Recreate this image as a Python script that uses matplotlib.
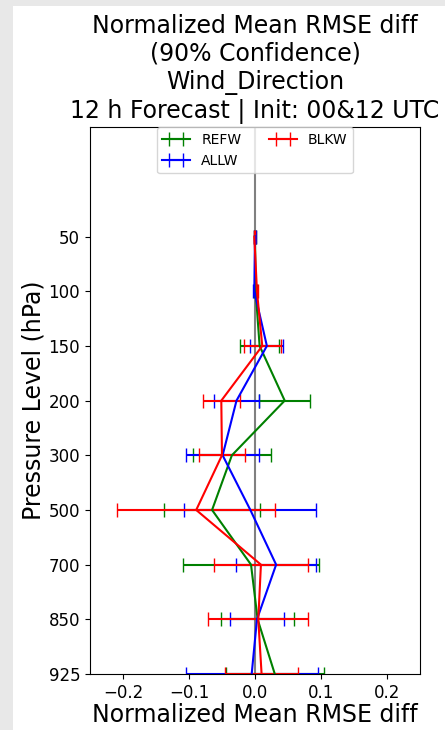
import matplotlib
matplotlib.use('Agg')
import matplotlib.pyplot as plt
from matplotlib.patches import Rectangle
import numpy as np

levels = [50, 100, 150, 200, 300, 500, 700, 850, 925]

refw = [0.0, 0.001, 0.007, 0.045, -0.035, -0.065, -0.006, 0.004, 0.030]
refw_err = [0.001, 0.002, 0.029, 0.039, 0.059, 0.073, 0.103, 0.055, 0.074]
allw = [0.0, -0.001, 0.018, -0.028, -0.049, -0.007, 0.032, 0.003, -0.005]
allw_err = [0.001, 0.002, 0.025, 0.034, 0.055, 0.100, 0.060, 0.041, 0.100]
blkw = [-0.001, 0.003, 0.011, -0.051, -0.050, -0.089, 0.009, 0.005, 0.010]
blkw_err = [0.001, 0.002, 0.028, 0.028, 0.035, 0.120, 0.071, 0.076, 0.055]

fig = plt.figure(figsize=(4.45, 7.3), dpi=100, facecolor='#e8e8e8')
# white page area (screenshot has a grey margin top/left)
fig.patches.append(Rectangle((13 / 445, 0), 1, 1 - 6 / 730, transform=fig.transFigure,
                             facecolor='white', edgecolor='none', zorder=-10))

ax = fig.add_axes([0.202, 0.0767, 0.742, 0.749])
ypos = np.arange(len(levels))

ax.axvline(0, color='grey', lw=1.5, zorder=1)
ax.errorbar(refw, ypos, xerr=refw_err, color='g', capsize=5, lw=1.5, label='REFW')
ax.errorbar(allw, ypos, xerr=allw_err, color='b', capsize=5, lw=1.5, label='ALLW')
ax.errorbar(blkw, ypos, xerr=blkw_err, color='r', capsize=5, lw=1.5, label='BLKW')

ax.set_yticks(ypos)
ax.set_yticklabels([str(l) for l in levels], fontsize=12)
ax.set_ylim(len(levels) - 1, -2)
ax.set_xlim(-0.25, 0.25)
ax.set_xticks([-0.2, -0.1, 0.0, 0.1, 0.2])
ax.tick_params(axis='x', labelsize=12)

ax.set_xlabel('Normalized Mean RMSE diff', fontsize=17, labelpad=1)
ax.set_ylabel('Pressure Level (hPa)', fontsize=17, labelpad=2)
ax.set_title('Normalized Mean RMSE diff\n(90% Confidence)\nWind_Direction\n12 h Forecast | Init: 00&12 UTC',
             fontsize=17, pad=7)
ax.legend(loc='upper center', ncol=2, fontsize=10, borderaxespad=0)

plt.savefig('out.png', dpi=100, facecolor=fig.get_facecolor())
